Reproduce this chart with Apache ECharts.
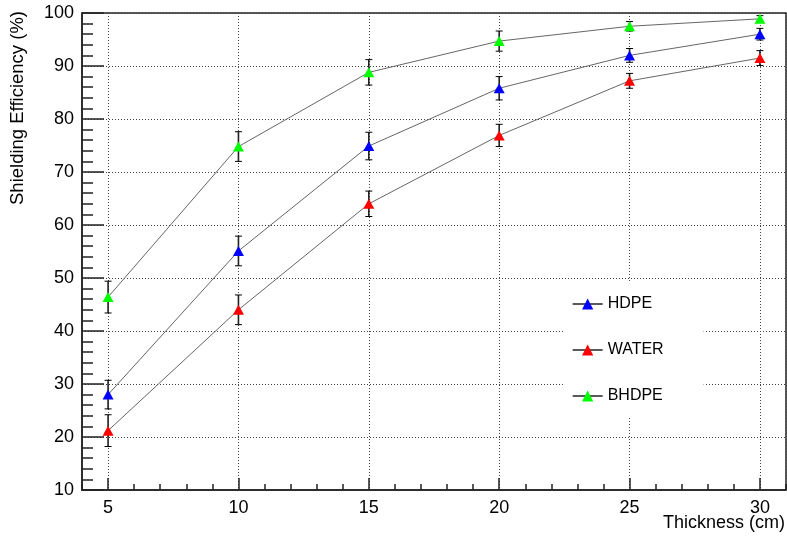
<!DOCTYPE html>
<html>
<head>
<meta charset="utf-8">
<script src="https://cdn.jsdelivr.net/npm/echarts@6/dist/echarts.min.js"></script>
<style>
html,body{margin:0;padding:0;background:#fff;}
#chart{width:787px;height:539px;}
</style>
</head>
<body>
<div id="chart"></div>
<script>
var thickness = [5, 10, 15, 20, 25, 30];
var hdpe      = [28.0, 55.1, 74.9, 85.8, 92.0, 96.0];
var hdpeErr   = [2.7, 2.8, 2.6, 2.2, 1.3, 1.1];
var water     = [21.2, 44.0, 64.0, 76.9, 87.2, 91.5];
var waterErr  = [3.0, 2.8, 2.4, 2.1, 1.4, 1.4];
var bhdpe     = [46.4, 74.8, 88.8, 94.7, 97.5, 98.9];
var bhdpeErr  = [3.0, 2.8, 2.4, 1.9, 0.9, 0.6];
var seriesNames = ['HDPE', 'WATER', 'BHDPE'];
var seriesColors = ['#0000ff', '#ff0000', '#00ff00'];
var xTitle = 'Thickness (cm)';
var yTitle = 'Shielding Efficiency (%)';

var FONT = '"Liberation Sans", Arial, Helvetica, sans-serif';

function pts(vals) { return thickness.map(function (x, i) { return [x, vals[i]]; }); }
function errPts(vals, errs) { return thickness.map(function (x, i) { return [x, vals[i], errs[i]]; }); }

function errRender(params, api) {
  var x = api.value(0), y = api.value(1), e = api.value(2);
  var t = api.coord([x, y + e]);
  var b = api.coord([x, y - e]);
  var st = { stroke: '#222', lineWidth: 1.6 };
  var cs = { stroke: '#000', lineWidth: 1 };
  return {
    type: 'group',
    children: [
      { type: 'line', shape: { x1: t[0], y1: t[1], x2: b[0], y2: b[1] }, style: st },
      { type: 'line', shape: { x1: t[0] - 3.5, y1: t[1], x2: t[0] + 3.5, y2: t[1] }, style: cs },
      { type: 'line', shape: { x1: b[0] - 3.5, y1: b[1], x2: b[0] + 3.5, y2: b[1] }, style: cs }
    ]
  };
}

var valsAll = [hdpe, water, bhdpe];
var errsAll = [hdpeErr, waterErr, bhdpeErr];

var series = [];
for (var i = 0; i < 3; i++) {
  series.push({
    name: seriesNames[i] + '_err',
    type: 'custom',
    xAxisIndex: 0, yAxisIndex: 0,
    renderItem: errRender,
    data: errPts(valsAll[i], errsAll[i]),
    encode: { x: 0, y: 1 },
    z: 1,
    silent: true
  });
}
for (var j = 0; j < 3; j++) {
  series.push({
    name: seriesNames[j],
    type: 'line',
    xAxisIndex: 0, yAxisIndex: 0,
    data: pts(valsAll[j]),
    symbol: 'triangle',
    symbolSize: [11, 10],
    showAllSymbol: true,
    itemStyle: { color: seriesColors[j] },
    lineStyle: { color: '#666', width: 1 },
    z: 3
  });
}

var chart = echarts.init(document.getElementById('chart'));
chart.setOption({
  animation: false,
  backgroundColor: '#fff',
  grid: {
    left: 82, top: 13, right: 1, bottom: 49,
    show: true, borderColor: '#222', borderWidth: 1.5, backgroundColor: 'transparent'
  },
  legend: {
    data: seriesNames,
    orient: 'vertical',
    left: 563, top: 282,
    padding: [14, 40, 12, 9],
    backgroundColor: '#fff',
    itemWidth: 30, itemHeight: 14,
    itemGap: 30,
    lineStyle: { color: '#000', width: 1.3 },
    textStyle: { fontFamily: FONT, fontSize: 16, color: '#000', lineHeight: 16 }
  },
  xAxis: [
    {
      type: 'value', min: 4, max: 31,
      axisLine: { show: true, lineStyle: { color: '#222', width: 1.5 } },
      axisTick: { show: true, inside: true, length: 12, lineStyle: { color: '#222', width: 1.5 } },
      axisLabel: { fontFamily: FONT, fontSize: 18, color: '#000', margin: 9, showMinLabel: false, showMaxLabel: false },
      splitLine: { show: true, lineStyle: { color: '#444', type: [1, 2], width: 1 } },
      minorTick: { show: false }
    },
    {
      type: 'value', min: 4, max: 31, interval: 1, position: 'bottom',
      axisLine: { show: false },
      axisTick: { show: true, inside: true, length: 6, lineStyle: { color: '#222', width: 1.5 } },
      axisLabel: { show: false },
      splitLine: { show: false }
    }
  ],
  yAxis: {
    type: 'value', min: 10, max: 100, interval: 10,
    axisLine: { show: true, lineStyle: { color: '#222', width: 1.5 } },
    axisTick: { show: true, inside: true, length: 22, lineStyle: { color: '#222', width: 1.5 } },
    minorTick: { show: true, splitNumber: 5, length: 11, lineStyle: { color: '#222', width: 1.5 } },
    axisLabel: { fontFamily: FONT, fontSize: 18, color: '#000', margin: 8 },
    splitLine: { show: true, lineStyle: { color: '#444', type: [1, 2], width: 1 } }
  },
  graphic: [
    { type: 'text', x: 785, y: 523, z: 10,
      style: { text: xTitle, font: '18px ' + FONT, fill: '#000', align: 'right', verticalAlign: 'middle' } },
    { type: 'text', x: 18, y: 11, rotation: Math.PI / 2, z: 10,
      style: { text: yTitle, font: '18.5px ' + FONT, fill: '#000', align: 'right', verticalAlign: 'middle' } }
  ],
  series: series
});
</script>
</body>
</html>
